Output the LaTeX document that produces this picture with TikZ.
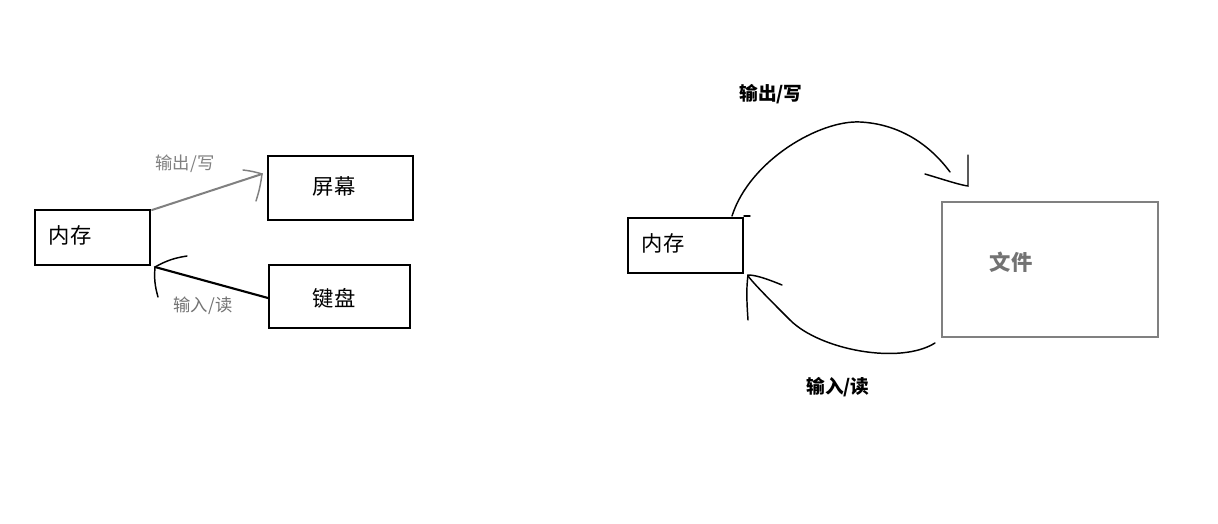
\documentclass[tikz,border=0pt]{standalone}
\usepackage{fontspec}
\setmainfont{Noto Sans CJK SC}
\begin{document}
\begin{tikzpicture}[x=0.75pt,y=-0.75pt,
 box/.style={draw,line width=1.6pt,inner sep=0},
 lbl/.style={font=\fontsize{13}{15}\selectfont},
 big/.style={font=\fontsize{16}{18}\selectfont},
 hand/.style={line width=1.1pt,line cap=round}]
\useasboundingbox[fill=white] (0,0) rectangle (1218,524);
% left
\draw[box] (35,210) rectangle (150,265); \node[big,anchor=west] (m1) at (44,235) {内存};
\draw[box] (268,156) rectangle (413,220); \node[big] (s) at (334,186) {屏幕};
\draw[box] (269,265) rectangle (410,328); \node[big] (k) at (334,298) {键盘};
\node[lbl,text=gray] (o1) at (185,164) {输出/写};
\node[lbl,text=gray!90!black] (i1) at (203,306) {输入/读};
\coordinate (a1) at (152,210); \coordinate (a2) at (262,174);
\draw[hand,gray,line width=1.5pt] (a1) -- (a2);
\draw[hand,gray] (243,170) to[bend left=5] (a2) to[bend left=5] (256,201);
\coordinate (b1) at (268,298); \coordinate (b2) at (155,267);
\draw[hand,line width=1.6pt] (b1) -- (b2);
\draw[hand] (187,256) to[bend right=10] (b2) to[bend right=10] (158,297);
% right
\draw[box,line width=1.2pt] (628,218) rectangle (743,273); \node[big,anchor=west] (m2) at (637,243) {内存};
\draw[draw=gray,line width=1.8pt] (942,202) rectangle (1158,337);
\node[big,font=\fontsize{16}{18}\selectfont\bfseries,text=black!55] (f) at (1011,262) {文件};
\node[lbl,font=\fontsize{14}{16}\selectfont\bfseries] (o2) at (771,94) {输出/写};
\node[lbl,font=\fontsize{14}{16}\selectfont\bfseries] (i2) at (838,387) {输入/读};
\draw[hand] (732,216) .. controls (750,160) and (820,120) .. (860,122) .. controls (900,124) and (930,145) .. (950,172);
\draw[hand] (925,174) .. controls (945,180) and (960,185) .. (968,186) -- (968,155);
\draw[hand] (744,216) -- (750,216);
\draw[hand] (935,343) .. controls (900,365) and (820,350) .. (790,320) .. controls (770,300) and (755,285) .. (748,276);
\draw[hand] (782,285) .. controls (765,278) and (755,275) .. (748,275) .. controls (746,290) and (747,305) .. (748,320);
\end{tikzpicture}
\end{document}
